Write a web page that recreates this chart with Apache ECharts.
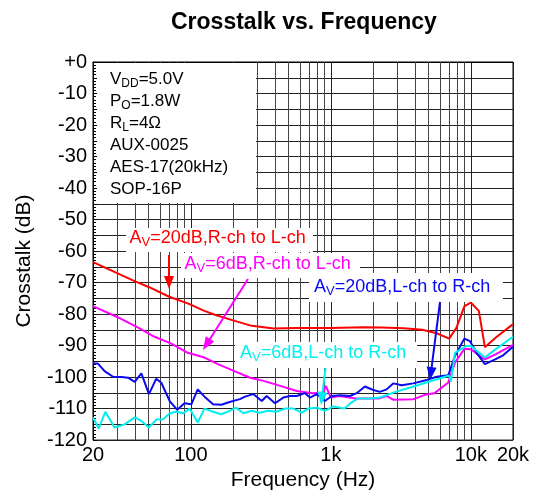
<!DOCTYPE html>
<html>
<head>
<meta charset="utf-8">
<script src="https://cdn.jsdelivr.net/npm/echarts/dist/echarts.min.js"></script>
<style>html,body{margin:0;padding:0;background:#fff;}#c{width:536px;height:496px;}</style>
</head>
<body>
<div id="c"></div>
<script>
// ---- data ----
const redFreq = [20,30,40,50,70,95,125,150,200,265,390,570,1000,1700,2300,3300,4500,5700,7000,7900,9000,10000,11400,12600,15000,20000];
const redDb   = [-63.5,-67.1,-69.6,-71.4,-74.5,-76.6,-79,-80.3,-82,-83.6,-84.6,-84.4,-84.4,-84.2,-84.3,-84.5,-85,-86.1,-87.8,-84.3,-77.5,-76.4,-79,-90.5,-87.5,-83.2];

const magFreq = [20,30,42,55,72,95,125,156,195,265,330,435,570,745,880,920,1000,1150,1500,2200,2500,2800,3900,4800,5500,6900,7700,9000,10000,12600,15000,20000];
const magDb   = [-77.5,-81,-84.3,-87.2,-89.3,-92.3,-93.8,-95.9,-97.7,-100.2,-101.2,-102.8,-104.4,-105.1,-104.9,-102.8,-106.5,-106,-106.8,-106.8,-106,-107.2,-107,-105.5,-105.1,-101.7,-95.4,-91,-91.2,-94.4,-92.8,-89.8];

const blueFreq = [20,21.7,24.2,27.8,31.9,35.6,39.7,44.3,50.2,56.6,61.5,70.6,80,90,101,112,127,144,165,189,224,244,279,321,348,399,457,510,570,653,710,793,907,1014,1160,1370,1530,1750,2010,2240,2500,2790,3200,3880,4840,5700,6900,7700,8980,9860,11000,12600,14900,17000,20000];
const blueDb   = [-95.7,-95.7,-98.1,-99.9,-100,-100.2,-101.5,-98.8,-105.4,-100.5,-101.8,-107.6,-110.4,-108.3,-108.6,-103.9,-106.5,-108.6,-108.8,-107.9,-107,-106.2,-105.4,-107.6,-106,-108.3,-106.5,-106,-106,-105.1,-106.5,-105.4,-107.6,-106,-105.8,-106,-105.1,-103,-104.1,-104.7,-103.9,-102,-102.6,-102,-100.9,-99.9,-99.4,-93.3,-87.8,-88.6,-92.3,-95.9,-94.4,-93.1,-90.4];

const cyanFreq = [20,22,24.5,28.5,33.6,39.7,44.3,50.2,56.6,63.5,70.6,79,88,98,112,125,144,165,189,210,237,271,311,357,409,470,540,620,690,793,907,1040,1250,1400,1560,1900,2240,2900,3700,5000,6200,7000,7200,7700,9300,10000,12600,15000,20000];
const cyanDb   = [-112.8,-116.3,-111,-116,-115,-112.8,-113.9,-116,-113.5,-113.4,-111.5,-111,-111.5,-110,-114.4,-110,-111,-111.8,-110.7,-109.7,-111.5,-110.7,-111.3,-110.7,-111,-110,-110,-111.3,-110,-109.7,-110.7,-109.3,-110,-108.1,-106.8,-106.8,-106.5,-104.7,-103.3,-101.5,-100.2,-99.5,-101.5,-92.3,-90.1,-90.1,-93.8,-91.2,-87.2];

const xMin = 20, xMax = 20000, yMin = -120, yMax = 0, yStep = 5;
const infoLines = [['V','DD','=5.0V'],['P','O','=1.8W'],['R','L','=4Ω'],['AUX-0025','',''],['AES-17(20kHz)','',''],['SOP-16P','','']];
const seriesLabels = [
  ['A','V','=20dB,R-ch to L-ch'],
  ['A','V','=6dB,R-ch to L-ch'],
  ['A','V','=20dB,L-ch to R-ch'],
  ['A','V','=6dB,L-ch to R-ch']
];

// ---- helpers ----
const FONT = '"Liberation Sans", Arial, Helvetica, sans-serif';
function pairs(f, d){ return f.map((v,i)=>[v,d[i]]); }
// minor log grid positions (2..9 x decade) within the axis range
const minorX = [];
for (let dec = 10; dec <= 10000; dec *= 10) {
  for (let k = 2; k <= 9; k++) { const v = k*dec; if (v > xMin && v < xMax) minorX.push(v); }
}
function fmtX(v){
  const r = Math.round(v);
  if (r >= 1000) return (r/1000) + 'k';
  return String(r);
}
function arrow(x1,y1,x2,y2,color){
  const dx=x2-x1, dy=y2-y1, L=Math.hypot(dx,dy), ux=dx/L, uy=dy/L;
  const hl=13, hw=5, bx=x2-ux*hl, by=y2-uy*hl;
  return [
    {type:'line', z:30, shape:{x1:x1,y1:y1,x2:bx+ux*2,y2:by+uy*2}, style:{stroke:color, lineWidth:2}},
    {type:'polygon', z:30, shape:{points:[[x2,y2],[bx-uy*hw,by+ux*hw],[bx+uy*hw,by-ux*hw]]}, style:{fill:color}}
  ];
}
function richLine(parts){
  let s = '{n|' + parts[0] + '}';
  if (parts[1]) s += '{s|' + parts[1] + '}';
  if (parts[2]) s += '{n|' + parts[2] + '}';
  return s;
}
function richStyle(size, subSize, color, lh){
  return {
    n:{fontSize:size, fontFamily:FONT, fill:color, lineHeight:lh, verticalAlign:'middle'},
    s:{fontSize:subSize, fontFamily:FONT, fill:color, lineHeight:12, verticalAlign:'bottom'}
  };
}
function label(parts, color, textX, textY, box){
  return [
    {type:'rect', z:10, shape:{x:box[0], y:box[1], width:box[2]-box[0], height:box[3]-box[1]}, style:{fill:'#fff'}},
    {type:'text', z:11, x:textX, y:textY, style:{text:richLine(parts), rich:richStyle(18,13,color,22), fill:color, align:'left', verticalAlign:'top', font:'18px '+FONT}}
  ];
}

const RED='#ff0000', MAG='#ff00ff', BLUE='#0a0af0', CYAN='#00f0f0';

const graphics = [].concat(
  [{type:'rect', z:10, shape:{x:97, y:63, width:159, height:140}, style:{fill:'#fff'}},
   {type:'text', z:11, x:110, y:68, style:{text: infoLines.map(richLine).join('\n'), rich:richStyle(17,12,'#000',22), fill:'#000', align:'left', verticalAlign:'top', font:'17px '+FONT}}],
  label(seriesLabels[0], RED, 129.5, 227, [126,228,313,252]),
  label(seriesLabels[1], MAG, 184.5, 253.3, [181,253,360,278]),
  label(seriesLabels[2], BLUE, 314, 276.3, [309,273,503,302]),
  label(seriesLabels[3], CYAN, 240, 342.3, [235,342,417,368]),
  arrow(169,255,169,289,RED),
  arrow(248,279,203,350,MAG),
  arrow(440,302,430,380,BLUE),
  arrow(325.5,368,321,405,CYAN)
);

const chart = echarts.init(document.getElementById('c'), null, {renderer:'canvas'});
const lineSeries = (name, f, d, color) => ({
  name, type:'line', data:pairs(f,d), showSymbol:false, symbol:'none', z:20,
  lineStyle:{color, width:2}, itemStyle:{color}, silent:true, animation:false
});
chart.setOption({
  animation:false,
  title:{text:'Crosstalk vs. Frequency', left:166, top:6,
    textStyle:{fontSize:23, fontWeight:'bold', fontFamily:FONT, color:'#000'}},
  grid:{left:93, right:23, top:62, bottom:55, show:true, borderColor:'#000', borderWidth:1, backgroundColor:'#fff'},
  xAxis:{type:'log', logBase:10, min:xMin, max:xMax,
    name:'Frequency (Hz)', nameLocation:'middle', nameGap:28,
    nameTextStyle:{fontSize:21, fontFamily:FONT, color:'#000'},
    axisLine:{show:true, lineStyle:{color:'#000', width:1}},
    axisTick:{show:false},
    axisLabel:{formatter:fmtX, fontSize:20, fontFamily:FONT, color:'#000', margin:5, showMinLabel:true, showMaxLabel:true},
    splitLine:{show:true, lineStyle:{color:'#222', width:1}}
  },
  yAxis:{type:'value', min:yMin, max:yMax, interval:yStep,
    name:'Crosstalk (dB)', nameLocation:'middle', nameGap:58, nameRotate:90,
    nameTextStyle:{fontSize:21, fontFamily:FONT, color:'#000', padding:[0,20,0,0]},
    axisLine:{show:true, lineStyle:{color:'#000', width:1}},
    axisTick:{show:true, inside:true, length:4, lineStyle:{color:'#000'}},
    minorTick:{show:true, splitNumber:5, length:3, lineStyle:{color:'#000'}},
    axisLabel:{formatter:v => (v % 10 !== 0 ? '' : (v === 0 ? '+0' : String(v))), fontSize:20, fontFamily:FONT, color:'#000', margin:6},
    splitLine:{show:true, lineStyle:{color:'#222', width:1}}
  },
  series:[
    {type:'line', data:[], z:1, silent:true, animation:false,
     markLine:{silent:true, symbol:['none','none'], label:{show:false}, animation:false,
       lineStyle:{type:'solid', color:'#444', width:1},
       emphasis:{disabled:true},
       data:minorX.map(v=>({xAxis:v}))}},
    lineSeries('red', redFreq, redDb, RED),
    lineSeries('mag', magFreq, magDb, MAG),
    lineSeries('blue', blueFreq, blueDb, BLUE),
    lineSeries('cyan', cyanFreq, cyanDb, CYAN)
  ],
  graphic:graphics
});
</script>
</body>
</html>
